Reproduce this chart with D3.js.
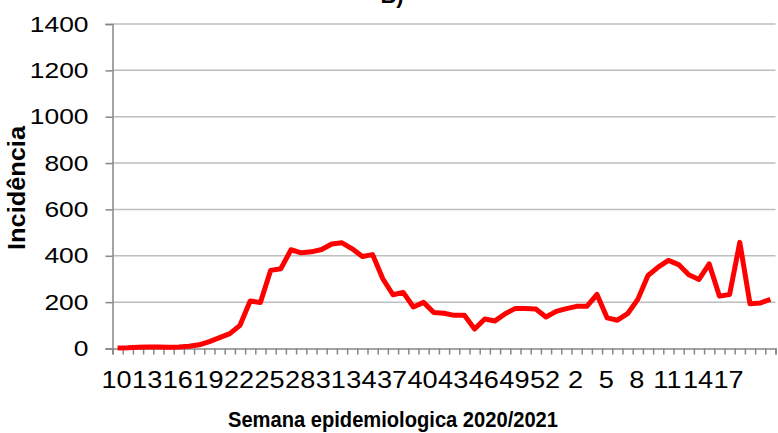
<!DOCTYPE html>
<html>
<head>
<meta charset="utf-8">
<script src="https://cdn.jsdelivr.net/npm/d3@7"></script>
<style>
  body { margin: 0; background: #fff; }
  svg { display: block; font-family: "Liberation Sans", Arial, sans-serif; }
</style>
</head>
<body>
<div id="chart"></div>
<script>
// Incidence by epidemiological week, 2020/2021

// weeks 10..53 of 2020, then 1..21 of 2021
const weeks = [10, 11, 12, 13, 14, 15, 16, 17, 18, 19, 20, 21, 22, 23, 24, 25, 26, 27, 28, 29,
  30, 31, 32, 33, 34, 35, 36, 37, 38, 39, 40, 41, 42, 43, 44, 45, 46, 47, 48, 49, 50, 51, 52, 53,
  1, 2, 3, 4, 5, 6, 7, 8, 9, 10, 11, 12, 13, 14, 15, 16, 17, 18, 19, 20, 21];

const incidence = [2, 3, 5, 7, 7, 5, 6, 10, 16, 30, 47, 64, 100, 205, 198, 337, 344, 426, 413, 417,
  427, 451, 456, 430, 397, 405, 301, 232, 242, 179, 199, 155, 152, 143, 143, 84, 127, 119, 150, 173,
  173, 170, 136, 160, 172, 182, 182, 233, 132, 122, 150, 212, 315, 351, 380, 362, 318, 298, 365, 226,
  233, 458, 193, 196, 212];

// which weeks get a label (position in the weeks list)
const xLabelIndex = [0, 3, 6, 9, 12, 15, 18, 21, 24, 27, 30, 33, 36, 39, 42, 45, 48, 51, 54, 57, 60];

const yTicks = [0, 200, 400, 600, 800, 1000, 1200, 1400];

// dimensions
const width = 778;
const height = 433;
const margin = {left: 112.5, right: 2.5, top: 24, bottom: 84.5};

const svg = d3.select("#chart")
  .append("svg")
  .attr("width", width)
  .attr("height", height);

// the reference digits are drawn wider than normal, stretch them
function widen(sel, k) {
  sel.each(function() {
    const w = this.getComputedTextLength();
    d3.select(this).attr("textLength", w * k).attr("lengthAdjust", "spacingAndGlyphs");
  });
}

// scales
const xScale = d3.scaleBand()
  .domain(d3.range(weeks.length))
  .range([margin.left, width - margin.right]);

const yScale = d3.scaleLinear()
  .domain([0, 1400])
  .range([height - margin.bottom, margin.top]);

// gridlines
svg.append("g")
  .selectAll("line")
  .data(yTicks.slice(1))
  .enter()
  .append("line")
  .attr("x1", margin.left)
  .attr("x2", width - margin.right)
  .attr("y1", d => yScale(d))
  .attr("y2", d => yScale(d))
  .attr("stroke", "#bebebe")
  .attr("stroke-width", 1.5);

// y axis
const yAxis = svg.append("g")
  .attr("transform", `translate(${margin.left},0)`)
  .call(d3.axisLeft(yScale).tickValues(yTicks).tickFormat(d3.format("d")).tickSize(7).tickPadding(17));
yAxis.select(".domain").attr("stroke", "#868686").attr("stroke-width", 1.5);
yAxis.selectAll(".tick line").attr("stroke", "#868686").attr("stroke-width", 1.5);
yAxis.selectAll("text")
  .attr("font-size", "22px")
  .attr("font-family", "Liberation Sans, Arial, sans-serif")
  .attr("fill", "#000")
  .call(widen, 1.2);

// x axis: tick marks between categories
const xEdges = d3.range(weeks.length + 1);
const xTickAxis = svg.append("g")
  .attr("transform", `translate(0,${yScale(0)})`)
  .call(d3.axisBottom(d3.scaleLinear().domain([0, weeks.length]).range(xScale.range()))
    .tickValues(xEdges).tickSize(6).tickFormat(""));
xTickAxis.select(".domain").attr("stroke", "#868686").attr("stroke-width", 1.5);
xTickAxis.selectAll(".tick line").attr("stroke", "#868686").attr("stroke-width", 1.5);

// x axis labels, every third week
const xLabelAxis = svg.append("g")
  .attr("transform", `translate(-1,${yScale(0)})`)
  .call(d3.axisBottom(xScale)
    .tickValues(xLabelIndex)
    .tickFormat(i => weeks[i])
    .tickSize(0)
    .tickPadding(23));
xLabelAxis.select(".domain").remove();
xLabelAxis.selectAll("text")
  .attr("font-size", "23px")
  .attr("font-family", "Liberation Sans, Arial, sans-serif")
  .attr("fill", "#000")
  .call(widen, 1.18);

// line
const line = d3.line()
  .x((d, i) => xScale(i) + xScale.bandwidth() / 2)
  .y(d => yScale(d));

svg.append("path")
  .datum(incidence)
  .attr("fill", "none")
  .attr("stroke", "#ff0000")
  .attr("stroke-width", 5)
  .attr("stroke-linejoin", "round")
  .attr("d", line);

// titles
svg.append("text")
  .attr("x", 392)
  .attr("y", 3)
  .attr("text-anchor", "middle")
  .attr("font-size", "22px")
  .attr("font-weight", "bold")
  .text("B)");

svg.append("text")
  .attr("x", 393)
  .attr("y", 427)
  .attr("text-anchor", "middle")
  .attr("font-size", "22px")
  .attr("font-weight", "bold")
  .attr("textLength", 330)
  .attr("lengthAdjust", "spacingAndGlyphs")
  .text("Semana epidemiologica 2020/2021");

svg.append("text")
  .attr("transform", "translate(25,188) rotate(-90)")
  .attr("text-anchor", "middle")
  .attr("font-size", "24px")
  .attr("font-weight", "bold")
  .attr("textLength", 124)
  .attr("lengthAdjust", "spacingAndGlyphs")
  .text("Incidência");
</script>
</body>
</html>
